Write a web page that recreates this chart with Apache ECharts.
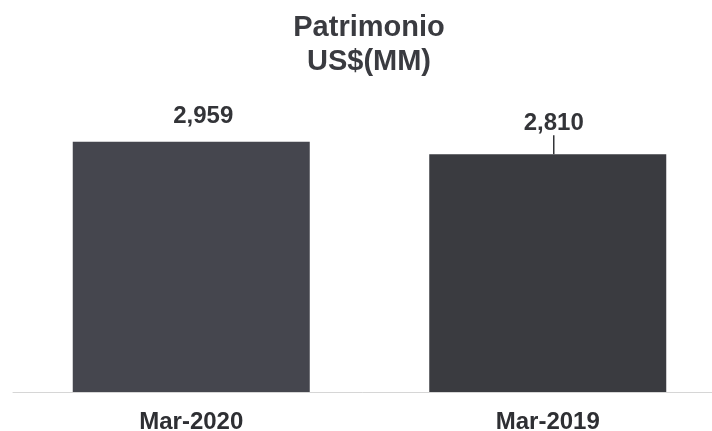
<!DOCTYPE html>
<html>
<head>
<meta charset="utf-8">
<script src="https://cdn.jsdelivr.net/npm/echarts@6/dist/echarts.min.js"></script>
<style>html,body{margin:0;padding:0;background:#fff;}#c{width:712px;height:431px;}</style>
</head>
<body>
<div id="c"></div>
<script>
const categories = ['Mar-2020', 'Mar-2019'];
const values = [2959, 2810];
const barColors = ['#45464e', '#3a3b40'];

const chart = echarts.init(document.getElementById('c'));
chart.setOption({
  backgroundColor: '#ffffff',
  animation: false,
  title: {
    text: 'Patrimonio\nUS$(MM)',
    left: 364,
    top: 6,
    textAlign: 'center',
    textStyle: {
      fontFamily: 'Liberation Sans',
      fontWeight: 'bold',
      fontSize: 29,
      lineHeight: 34,
      color: '#3a3b40'
    }
  },
  grid: { left: 13, right: -14, top: 96, bottom: 39, outerBoundsMode: 'none', containLabel: false },
  xAxis: {
    type: 'category',
    data: categories,
    axisTick: { show: false },
    axisLine: { show: true, lineStyle: { color: '#d6d6d6', width: 1 } },
    axisLabel: {
      margin: 18,
      fontFamily: 'Liberation Sans',
      fontWeight: 'bold',
      fontSize: 24,
      color: '#2e2f33'
    }
  },
  yAxis: {
    type: 'value',
    min: 0,
    max: 3500,
    show: false,
    splitLine: { show: false }
  },
  series: [{
    type: 'bar',
    barWidth: 237,
    data: values.map((v, i) => ({
      value: v,
      itemStyle: { color: barColors[i] },
      labelLine: { show: i === 1 }
    })),
    label: {
      show: true,
      position: 'top',
      distance: 5,
      fontFamily: 'Liberation Sans',
      fontWeight: 'bold',
      fontSize: 24,
      color: '#333438',
      formatter: p => p.value.toLocaleString('en-US')
    },
    labelLine: {
      show: false,
      lineStyle: { color: '#333438', width: 1.5 }
    },
    labelLayout: p => p.dataIndex === 0 ? { dx: 12, dy: -8 } : { dx: 6, dy: -14 }
  }]
});
</script>
</body>
</html>
